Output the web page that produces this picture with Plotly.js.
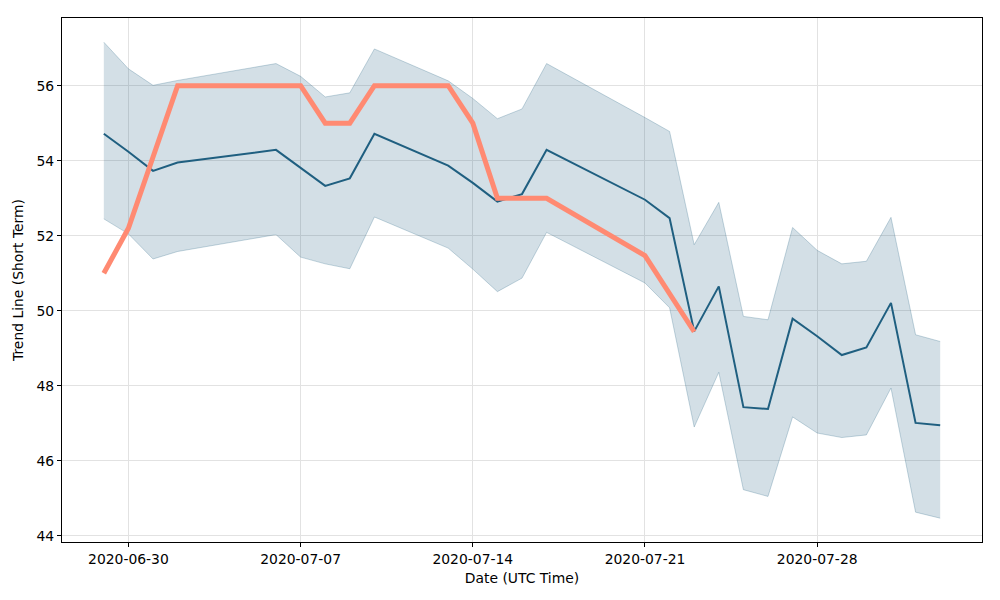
<!DOCTYPE html>
<html>
<head>
<meta charset="utf-8">
<script src="https://cdn.plot.ly/plotly-3.0.1.min.js"></script>
<style>
  html, body { margin: 0; padding: 0; background: #fff; }
  #chart { width: 1000px; height: 600px; }
</style>
</head>
<body>
<div id="chart"></div>
<script>
// dates of the daily trend estimates
const dates = [
  '2020-06-29', '2020-06-30', '2020-07-01', '2020-07-02', '2020-07-06', '2020-07-07',
  '2020-07-08', '2020-07-09', '2020-07-10', '2020-07-13', '2020-07-14', '2020-07-15',
  '2020-07-16', '2020-07-17', '2020-07-21', '2020-07-22', '2020-07-23', '2020-07-24',
  '2020-07-25', '2020-07-26', '2020-07-27', '2020-07-28', '2020-07-29', '2020-07-30',
  '2020-07-31', '2020-08-01', '2020-08-02'
];
const trendMean = [
  54.72, 54.24, 53.73, 53.95, 54.29, 53.81, 53.33, 53.53, 54.72, 53.87, 53.41, 52.91,
  53.11, 54.29, 52.96, 52.47, 49.45, 50.65, 47.43, 47.38, 49.79, 49.32, 48.82, 49.02,
  50.21, 47.01, 46.95
];
const trendUpper = [
  57.16, 56.45, 56.01, 56.14, 56.59, 56.25, 55.70, 55.81, 56.98, 56.13, 55.66, 55.12,
  55.38, 56.59, 55.15, 54.78, 51.76, 52.89, 49.85, 49.76, 52.22, 51.61, 51.25, 51.32,
  52.49, 49.36, 49.18
];
const trendLower = [
  52.45, 52.05, 51.38, 51.58, 52.03, 51.43, 51.25, 51.12, 52.50, 51.67, 51.11, 50.51,
  50.87, 52.09, 50.74, 50.08, 46.90, 48.36, 45.23, 45.05, 47.17, 46.74, 46.62, 46.69,
  47.94, 44.63, 44.47
];
// observed values (only up to 2020-07-23)
const obsDates = [
  '2020-06-29', '2020-06-30', '2020-07-01', '2020-07-02', '2020-07-06', '2020-07-07',
  '2020-07-08', '2020-07-09', '2020-07-10', '2020-07-13', '2020-07-14', '2020-07-15',
  '2020-07-16', '2020-07-17', '2020-07-21', '2020-07-22', '2020-07-23'
];
const obsValues = [
  51, 52.2, 54.1, 56, 56, 56, 55, 55, 56, 56, 55, 53, 53, 53, 51.47, 50.45, 49.44
];
const xTicks = ['2020-06-30', '2020-07-07', '2020-07-14', '2020-07-21', '2020-07-28'];

const bandLine = 'rgba(33,95,128,0.25)';
const bandFill = 'rgba(33,95,128,0.2)';

const traces = [
  {
    x: dates, y: trendUpper, type: 'scatter', mode: 'lines',
    line: {color: bandLine, width: 1}, hoverinfo: 'skip', showlegend: false
  },
  {
    x: dates, y: trendLower, type: 'scatter', mode: 'lines', fill: 'tonexty',
    fillcolor: bandFill, line: {color: bandLine, width: 1}, hoverinfo: 'skip', showlegend: false
  },
  {
    x: dates, y: trendMean, type: 'scatter', mode: 'lines',
    line: {color: '#1f5f80', width: 2}, showlegend: false
  },
  {
    x: obsDates, y: obsValues, type: 'scatter', mode: 'lines',
    line: {color: '#ff8a72', width: 5}, showlegend: false
  }
];

const axisFont = {family: 'DejaVu Sans', size: 13.9, color: '#000'};

const layout = {
  width: 1000,
  height: 600,
  margin: {l: 62, r: 18, t: 18, b: 58},
  paper_bgcolor: '#fff',
  plot_bgcolor: '#fff',
  font: axisFont,
  xaxis: {
    type: 'date',
    range: ['2020-06-27 07:12', '2020-08-03 16:48'],
    tickvals: xTicks,
    ticktext: xTicks,
    ticks: 'outside', ticklen: 4, tickcolor: '#000',
    showline: true, linecolor: '#000', linewidth: 1, mirror: true,
    showgrid: true, gridcolor: '#e2e2e2', gridwidth: 1,
    zeroline: false,
    tickfont: axisFont,
    title: {text: 'Date (UTC Time)', font: axisFont, standoff: 7}
  },
  yaxis: {
    range: [43.835, 57.805],
    tickvals: [44, 46, 48, 50, 52, 54, 56],
    ticks: 'outside', ticklen: 4, tickcolor: '#000',
    showline: true, linecolor: '#000', linewidth: 1, mirror: true,
    showgrid: true, gridcolor: '#e2e2e2', gridwidth: 1,
    zeroline: false,
    tickfont: axisFont,
    title: {text: 'Trend Line (Short Term)', font: axisFont, standoff: 9}
  }
};

Plotly.newPlot('chart', traces, layout, {displayModeBar: false, staticPlot: true});
</script>
</body>
</html>
